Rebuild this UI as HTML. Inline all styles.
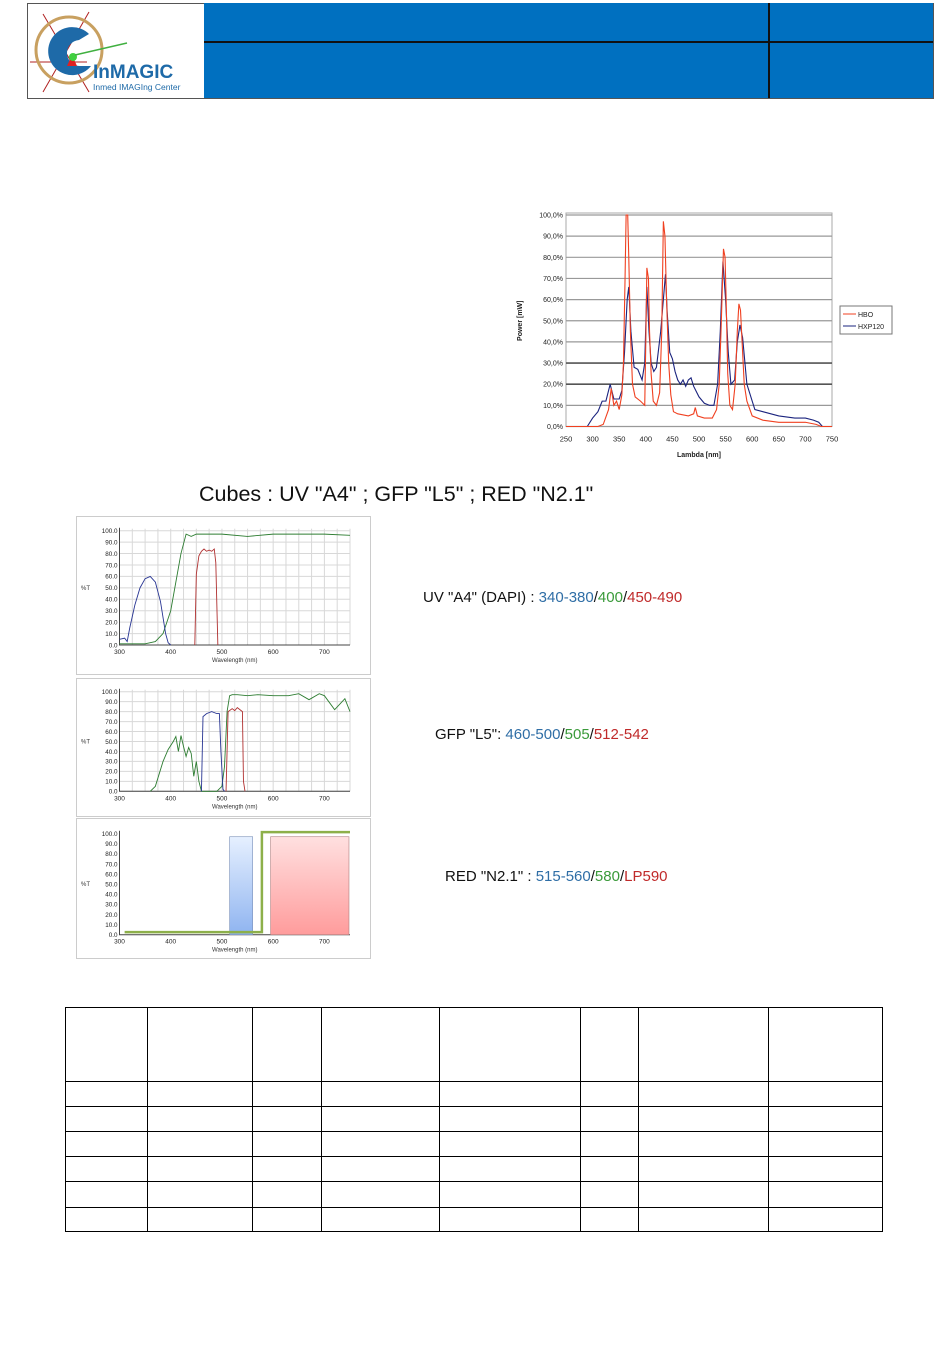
<!DOCTYPE html>
<html><head><meta charset="utf-8"><style>
body{margin:0;width:950px;height:1359px;background:#fff;position:relative;overflow:hidden;font-family:"Liberation Sans",sans-serif}
.abs{position:absolute}
</style></head><body>
<div class="abs" style="left:27px;top:3px;width:905px;height:94px;border:1px solid #555;background:#fff"></div>
<div class="abs" style="left:204px;top:3px;width:729px;height:95px;background:#0070c0"></div>
<div class="abs" style="left:204px;top:41px;width:729px;height:2px;background:#111"></div>
<div class="abs" style="left:768px;top:3px;width:2px;height:95px;background:#111"></div>
<svg class="abs" style="left:27px;top:4px" width="176" height="93">
 <g stroke="#b02020" stroke-width="1"><line x1="3" y1="58" x2="60" y2="58"/><line x1="16" y1="10" x2="62" y2="88"/><line x1="62" y1="8" x2="16" y2="88"/></g>
 <circle cx="42" cy="46" r="33" fill="none" stroke="#c8a060" stroke-width="3"/>
 <path d="M62 30 A24 24 0 1 0 64 62 L54 62 A13 13 0 1 1 52 36 Z" fill="#1e6aa8"/>
 <polygon points="40,62 50,62 45,51" fill="#e02020"/>
 <circle cx="46" cy="53" r="4" fill="#40d040"/>
 <line x1="48" y1="51" x2="100" y2="39" stroke="#40b040" stroke-width="1.5"/>
 <text x="66" y="74" font-family="Liberation Sans,sans-serif" font-weight="bold" font-size="19" fill="#1e6aa8">InMAGIC</text>
 <text x="66" y="86" font-family="Liberation Sans,sans-serif" font-size="8.5" fill="#1e6aa8">Inmed IMAGIng Center</text>
</svg>

<svg class="abs" id="lamp" style="left:510px;top:200px" width="400" height="270"></svg>

<div class="abs" style="left:199px;top:482px;font-size:21.5px;color:#111;white-space:nowrap">Cubes : UV "A4" ; GFP "L5" ; RED "N2.1"</div>

<svg class="abs" id="uv" style="left:76px;top:516px" width="296" height="159"></svg>
<svg class="abs" id="gfp" style="left:76px;top:678px" width="296" height="139"></svg>
<svg class="abs" id="red" style="left:76px;top:818px" width="296" height="141"></svg>

<div class="abs" style="left:423px;top:589px;font-size:15px;color:#111;white-space:nowrap">UV "A4" (DAPI) : <span style="color:#2f6ea6">340-380</span>/<span style="color:#3a9a3a">400</span>/<span style="color:#c02a2a">450-490</span></div>
<div class="abs" style="left:435px;top:726px;font-size:15px;color:#111;white-space:nowrap">GFP "L5": <span style="color:#2f6ea6">460-500</span>/<span style="color:#3a9a3a">505</span>/<span style="color:#c02a2a">512-542</span></div>
<div class="abs" style="left:445px;top:868px;font-size:15px;color:#111;white-space:nowrap">RED "N2.1" : <span style="color:#2f6ea6">515-560</span>/<span style="color:#3a9a3a">580</span>/<span style="color:#c02a2a">LP590</span></div>

<div class="abs" id="tbl" style="left:65px;top:1007px;width:818px;height:225px;border:1px solid #000;box-sizing:border-box"></div>

<script>
const NS="http://www.w3.org/2000/svg";
function mk(p,t,a){const e=document.createElementNS(NS,t);for(const k in a)e.setAttribute(k,a[k]);p.appendChild(e);return e;}

// ---- Lamp chart data ----
const lampTicksX=[250,300,350,400,450,500,550,600,650,700,750];
const lampTicksY=[0,10,20,30,40,50,60,70,80,90,100];
const hboLambda=[250,310,320,330,335,340,345,350,355,358,361,363,366,368,371,375,380,390,398,400,402,405,407,410,414,420,426,430,433,436,439,443,447,452,460,480,490,493,497,510,525,533,538,542,546,549,551,554,558,563,568,572,575,578,581,585,590,600,620,650,700,720,730,750];
const hboPower=[0,0,1,8,18,10,12,8,15,30,70,100,100,80,45,20,14,12,10,40,75,70,45,25,12,10,16,45,97,90,60,30,15,7,6,5,6,9,5,4,4,8,20,50,84,80,60,25,10,8,20,45,58,55,40,20,12,5,3,2,2,1,0,0];
const hxpLambda=[250,290,300,310,318,325,333,340,350,355,360,365,368,372,378,385,393,398,402,406,410,415,420,428,433,437,440,445,450,455,460,465,470,475,480,485,490,500,510,520,528,535,540,545,550,555,560,567,572,577,582,590,600,605,620,650,680,700,715,725,732,750];
const hxpPower=[0,0,4,7,12,12,20,13,13,17,35,60,66,45,28,27,22,30,66,45,30,26,28,45,60,72,55,35,32,26,22,20,22,19,22,23,19,14,11,10,10,20,45,78,60,35,20,22,40,48,42,20,12,8,7,5,4,4,3,2,0,0];

(function(){
 const s=document.getElementById('lamp');
 const X0=566,X1=832,Y0=426.5,Y1=215,ox=510,oy=200;
 const x=v=>X0-ox+(v-250)/500*(X1-X0), y=v=>Y0-oy-(v/100)*(Y0-Y1);
 let r=mk(s,'rect',{x:x(250),y:y(100)-2,width:X1-X0,height:Y0-Y1+2,fill:'#fff',stroke:'#aaa'});
 
 
 lampTicksY.forEach(v=>{
  const l=mk(s,'line',{x1:x(250),x2:x(750),y1:y(v),y2:y(v),stroke:(v==20||v==30)?'#555':'#999','stroke-width':(v==20||v==30)?1.6:1.2});
  
  
  const t=mk(s,'text',{x:x(250)-3,y:y(v)+2.5,'font-size':7,'text-anchor':'end',fill:'#222'});t.textContent=v.toFixed(1).replace('.',',')+'%';
  
  
 });
 lampTicksX.forEach(v=>{
  const t=mk(s,'text',{x:x(v),y:y(0)+15,'font-size':7.5,'text-anchor':'middle',fill:'#222'});t.textContent=v;
  
  
 });
 const xt=mk(s,'text',{x:(x(250)+x(750))/2,y:257,'font-size':7,'font-weight':'bold','text-anchor':'middle',fill:'#222'});xt.textContent='Lambda [nm]';
 
 
 const yt=mk(s,'text',{x:0,y:0,'font-size':7,'font-weight':'bold','text-anchor':'middle',fill:'#222',transform:`translate(12,${(y(0)+y(100))/2}) rotate(-90)`});yt.textContent='Power [mW]';
 
 
 const pl=(L,P,c,n)=>{const p=mk(s,'polyline',{points:L.map((v,i)=>x(v)+','+y(P[i])).join(' '),fill:'none',stroke:c,'stroke-width':1.1});
  
  };
 pl(hxpLambda,hxpPower,'#1a237e','hxp120-series');
 pl(hboLambda,hboPower,'#f04020','hbo-series');
 const lg=mk(s,'rect',{x:330,y:106,width:52,height:28,fill:'#fff',stroke:'#777'});
 
 
 [['HBO','#f04020',116],['HXP120','#1a237e',128]].forEach(d=>{
  const l=mk(s,'line',{x1:333,x2:346,y1:d[2]-2,y2:d[2]-2,stroke:d[1]});
  
  
  const t=mk(s,'text',{x:348,y:d[2]+1,'font-size':7,fill:'#222'});t.textContent=d[0];
  
  
 });
})();

// ---- Filter charts data ----
const filtTicksX=[300,400,500,600,700];
const filtTicksY=[0,10,20,30,40,50,60,70,80,90,100];
const uvExLambda=[300,310,315,320,330,340,350,360,370,380,390,395,400];
const uvExT=[5,6,3,15,35,50,58,60,55,38,10,2,0];
const uvDiLambda=[300,350,370,385,400,410,420,430,440,450,500,550,600,650,700,750];
const uvDiT=[1,1,3,10,30,55,80,97,95,97,97,95,97,97,97,96];
const uvEmLambda=[447,450,455,460,465,470,475,480,485,488,492];
const uvEmT=[0,62,78,82,84,82,83,82,84,72,0];
const gfpExLambda=[460,463,470,480,490,495,498,502,505];
const gfpExT=[0,75,78,80,78,78,40,2,0];
const gfpDiLambda=[360,370,385,395,405,410,415,420,425,430,435,440,445,450,455,460,470,490,500,505,510,515,520,530,550,570,600,630,650,670,690,700,720,740,750];
const gfpDiT=[0,5,30,42,50,55,40,56,45,35,44,38,15,30,10,0,0,0,5,25,80,96,97,97,96,97,96,96,98,92,98,96,82,93,80];
const gfpEmLambda=[508,512,520,525,530,535,540,542,545];
const gfpEmT=[0,80,83,81,84,82,80,10,0];
const redDiLambda=[310,578,578,750];
const redDiT=[2.5,2.5,101.5,101.5];
const redExBand=[515,560,97];
const redEmBand=[595,748,97];

function filterChart(id,top,h,y0,y100,grid){
 const s=document.getElementById(id);
 const X0=119.5,X1=350;
 const x=v=>X0-76+(v-300)/450*(X1-X0), y=v=>y0-top-(v/100)*(y0-y100);
 const fr=mk(s,'rect',{x:0.5,y:0.5,width:294,height:h-1,fill:'#fff',stroke:'#ccc'});
 
 
 if(grid){
  for(let v=300;v<=750;v+=25){const l=mk(s,'line',{x1:x(v),x2:x(v),y1:y(0),y2:y(100)-2,stroke:'#d8d8d8'});
   
   }
  filtTicksY.forEach(v=>{const l=mk(s,'line',{x1:x(300),x2:x(750),y1:y(v),y2:y(v),stroke:'#d8d8d8'});
   
   });
 }
 const ax=mk(s,'path',{d:`M${x(300)} ${y(100)-3}V${y(0)}H${x(750)}`,fill:'none',stroke:'#444'});
 
 
 filtTicksY.forEach(v=>{const t=mk(s,'text',{x:x(300)-2,y:y(v)+2.3,'font-size':6.3,'text-anchor':'end',fill:'#222'});t.textContent=v.toFixed(1);
  
  });
 filtTicksX.forEach(v=>{const t=mk(s,'text',{x:x(v),y:y(0)+9,'font-size':6.5,'text-anchor':'middle',fill:'#222'});t.textContent=v;
  
  });
 const xt=mk(s,'text',{x:x(525),y:y(0)+17,'font-size':6,'text-anchor':'middle',fill:'#333'});xt.textContent='Wavelength (nm)';
 
 
 const yt=mk(s,'text',{x:5,y:y(50)+2,'font-size':6,fill:'#333'});yt.textContent='%T';
 
 
 return {s,x,y};
}
function curve(c,L,T,col,n,w){const p=mk(c.s,'polyline',{points:L.map((v,i)=>c.x(v)+','+c.y(T[i])).join(' '),fill:'none',stroke:col,'stroke-width':w||0.9});
 
 }

const uv=filterChart('uv',516,159,645,530.7,true);
curve(uv,uvDiLambda,uvDiT,'#2e7d32','uv-dichroic-curve');
curve(uv,uvExLambda,uvExT,'#283593','uv-excitation-curve');
curve(uv,uvEmLambda,uvEmT,'#b03030','uv-emission-curve');
const gfp=filterChart('gfp',678,139,791.3,691.7,true);
curve(gfp,gfpDiLambda,gfpDiT,'#2e7d32','gfp-dichroic-curve');
curve(gfp,gfpExLambda,gfpExT,'#283593','gfp-excitation-curve');
curve(gfp,gfpEmLambda,gfpEmT,'#b03030','gfp-emission-curve');
const rd=filterChart('red',818,141,934.7,833.7,false);
(function(){
 const s=rd.s,defs=mk(s,'defs',{});
 const g1=mk(defs,'linearGradient',{id:'gb',x1:0,y1:0,x2:0,y2:1});mk(g1,'stop',{offset:0,'stop-color':'#e6f0ff'});mk(g1,'stop',{offset:1,'stop-color':'#8fb4f0'});
 const g2=mk(defs,'linearGradient',{id:'gr',x1:0,y1:0,x2:0,y2:1});mk(g2,'stop',{offset:0,'stop-color':'#ffe0e0'});mk(g2,'stop',{offset:1,'stop-color':'#ff9c9c'});
 const b=mk(s,'rect',{x:rd.x(redExBand[0]),y:rd.y(redExBand[2]),width:rd.x(redExBand[1])-rd.x(redExBand[0]),height:rd.y(0)-rd.y(redExBand[2]),fill:'url(#gb)',stroke:'#7a90b8','stroke-width':0.6});
 
 
 const r=mk(s,'rect',{x:rd.x(redEmBand[0]),y:rd.y(redEmBand[2]),width:rd.x(redEmBand[1])-rd.x(redEmBand[0]),height:rd.y(0)-rd.y(redEmBand[2]),fill:'url(#gr)',stroke:'#b08080','stroke-width':0.6});
 
 
})();
curve(rd,redDiLambda,redDiT,'#8db04a','red-dichroic-curve',2.5);

// ---- table ----
(function(){
 const t=document.getElementById('tbl');
 const cols=[147,252,321,439,580,638,768];
 const rows=[1081,1106,1131,1156,1181,1207];
 cols.forEach(c=>{const d=document.createElement('div');d.className='abs';d.style.cssText=`left:${c-65-1}px;top:0;width:1px;height:100%;background:#000`;
  
  t.appendChild(d);});
 rows.forEach(r=>{const d=document.createElement('div');d.className='abs';d.style.cssText=`left:0;top:${r-1007-1}px;width:100%;height:1px;background:#000`;
  
  t.appendChild(d);});
})();
</script>
</body></html>
